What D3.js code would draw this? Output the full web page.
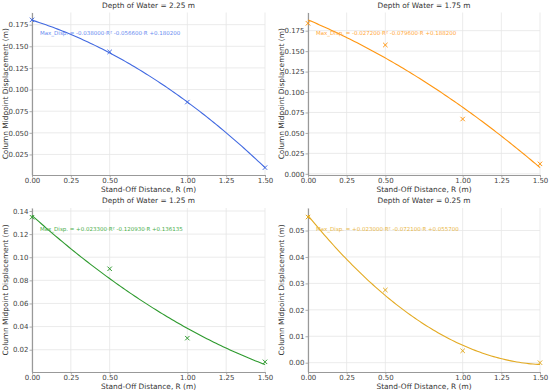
<!DOCTYPE html>
<html>
<head>
<meta charset="utf-8">
<script src="https://cdn.jsdelivr.net/npm/d3@7"></script>
<style>
  body { margin: 0; background: #fff; }
  text { font-family: "DejaVu Sans", sans-serif; }
</style>
</head>
<body>
<svg id="chart" width="550" height="391"></svg>
<script>
var width = 550,
    height = 391;

// data
var depths = ["2.25", "1.75", "1.25", "0.25"];
var distances = [0, 0.5, 1.0, 1.5];
var disp225 = [0.1805, 0.1435, 0.0855, 0.0098];
var disp175 = [0.1840, 0.1575, 0.0670, 0.0122];
var disp125 = [0.1346, 0.0900, 0.0300, 0.0095];
var disp025 = [0.0551, 0.0275, 0.0045, 0.0000];
// quadratic fit coefficients [a, b, c] : a R^2 + b R + c
var fit225 = [-0.038000, -0.056600, 0.180200];
var fit175 = [-0.027200, -0.079600, 0.188200];
var fit125 = [0.023300, -0.120930, 0.136135];
var fit025 = [0.023000, -0.072100, 0.055700];
var xTicks = [0, 0.25, 0.5, 1.0, 1.25, 1.5];
var yTicks225 = [0.025, 0.05, 0.075, 0.1, 0.125, 0.15, 0.175];
var yTicks175 = [0, 0.025, 0.05, 0.075, 0.1, 0.125, 0.15, 0.175];
var yTicks125 = [0.02, 0.04, 0.06, 0.08, 0.1, 0.12, 0.14];
var yTicks025 = [0, 0.01, 0.02, 0.03, 0.04, 0.05];

var panels = [
  {depth: depths[0], ys: disp225, fit: fit225, ticks: yTicks225, fmt: ".3f", color: "#4169e1", text: "#6a8cf0", col: 0, row: 0},
  {depth: depths[1], ys: disp175, fit: fit175, ticks: yTicks175, fmt: ".3f", color: "#ff9610", text: "#ffa83c", col: 1, row: 0},
  {depth: depths[2], ys: disp125, fit: fit125, ticks: yTicks125, fmt: ".2f", color: "#2e9a2e", text: "#4aae4a", col: 0, row: 1},
  {depth: depths[3], ys: disp025, fit: fit025, ticks: yTicks025, fmt: ".2f", color: "#e3aa22", text: "#e9b848", col: 1, row: 1}
];

var colX = [[32, 265], [308, 540]],
    rowY = [[12.5, 175], [208, 372]];

var svg = d3.select("#chart");

var evalFit = function(f, r) {
  return f[0] * r * r + f[1] * r + f[2];
};

var locale = d3.formatLocale({decimal: ".", thousands: ",", grouping: [3], currency: ["", ""], minus: "-"});
var sign = locale.format("+.6f");

panels.forEach(function(p) {
  var x0 = colX[p.col][0], x1 = colX[p.col][1],
      y0 = rowY[p.row][0], y1 = rowY[p.row][1];

  var curve = d3.range(0, 101).map(function(i) {
    var r = 1.5 * i / 100;
    return [r, evalFit(p.fit, r)];
  });

  var all = p.ys.concat(curve.map(function(d) { return d[1]; }));
  var ext = d3.extent(all),
      pad = (ext[1] - ext[0]) * 0.05;

  var x = d3.scaleLinear().domain([0, 1.5]).range([x0, x1]);
  var y = d3.scaleLinear().domain([ext[0] - pad, ext[1] + pad]).range([y1, y0]);

  var g = svg.append("g");

  // grid
  g.selectAll(".vgrid").data(xTicks).enter().append("line")
      .attr("x1", function(d) { return x(d); })
      .attr("x2", function(d) { return x(d); })
      .attr("y1", y0).attr("y2", y1)
      .attr("stroke", "#e6e6e6").attr("stroke-width", 0.8);

  g.selectAll(".hgrid").data(p.ticks).enter().append("line")
      .attr("x1", x0).attr("x2", x1)
      .attr("y1", function(d) { return y(d); })
      .attr("y2", function(d) { return y(d); })
      .attr("stroke", "#e6e6e6").attr("stroke-width", 0.8);

  // axes
  var xAxis = d3.axisBottom(x).tickValues(xTicks).tickFormat(d3.format(".2f"))
      .tickSizeInner(2.5).tickSizeOuter(0).tickPadding(0.5);
  var yAxis = d3.axisLeft(y).tickValues(p.ticks).tickFormat(d3.format(p.fmt))
      .tickSizeInner(2.5).tickSizeOuter(0).tickPadding(1);

  var gx = g.append("g").attr("transform", "translate(0," + y1 + ")").call(xAxis);
  var gy = g.append("g").attr("transform", "translate(" + x0 + ",0)").call(yAxis);

  [gx, gy].forEach(function(a) {
    a.select(".domain").attr("stroke", "#999").attr("stroke-width", 1.2);
    a.selectAll(".tick line").attr("stroke", "#999").attr("stroke-width", 0.8);
    a.selectAll(".tick text").attr("fill", "#444").style("font-size", "7px");
  });

  // fit curve
  var line = d3.line()
      .x(function(d) { return x(d[0]); })
      .y(function(d) { return y(d[1]); });

  g.append("path")
      .datum(curve)
      .attr("d", line)
      .attr("fill", "none")
      .attr("stroke", p.color)
      .attr("stroke-width", 1.1);

  // data points
  var s = 2.2;
  g.selectAll(".pt").data(p.ys).enter().append("path")
      .attr("d", function(d, i) {
        var cx = x(distances[i]), cy = y(d);
        return "M" + (cx - s) + "," + (cy - s) + "L" + (cx + s) + "," + (cy + s) +
               "M" + (cx - s) + "," + (cy + s) + "L" + (cx + s) + "," + (cy - s);
      })
      .attr("stroke", p.color)
      .attr("stroke-width", 1);

  // equation
  g.append("text")
      .attr("x", x0 + 8)
      .attr("y", y0 + 22.5)
      .attr("fill", p.text)
      .style("font-size", "5.5px")
      .text("Max_Disp. = " + sign(p.fit[0]) + "·R² " + sign(p.fit[1]) + "·R " + sign(p.fit[2]));

  // title and labels
  g.append("text")
      .attr("x", (x0 + x1) / 2)
      .attr("y", y0 - 5)
      .attr("text-anchor", "middle")
      .attr("fill", "#333")
      .style("font-size", "7.4px")
      .text("Depth of Water = " + p.depth + " m");

  g.append("text")
      .attr("x", (x0 + x1) / 2)
      .attr("y", y1 + 17.3)
      .attr("text-anchor", "middle")
      .attr("fill", "#333")
      .style("font-size", "7.4px")
      .text("Stand-Off Distance, R (m)");

  g.append("text")
      .attr("transform", "translate(" + (x0 - 24.5) + "," + ((y0 + y1) / 2) + ") rotate(-90)")
      .attr("text-anchor", "middle")
      .attr("fill", "#333")
      .style("font-size", "7.4px")
      .text("Column Midpoint Displacement (m)");
});
</script>
</body>
</html>
